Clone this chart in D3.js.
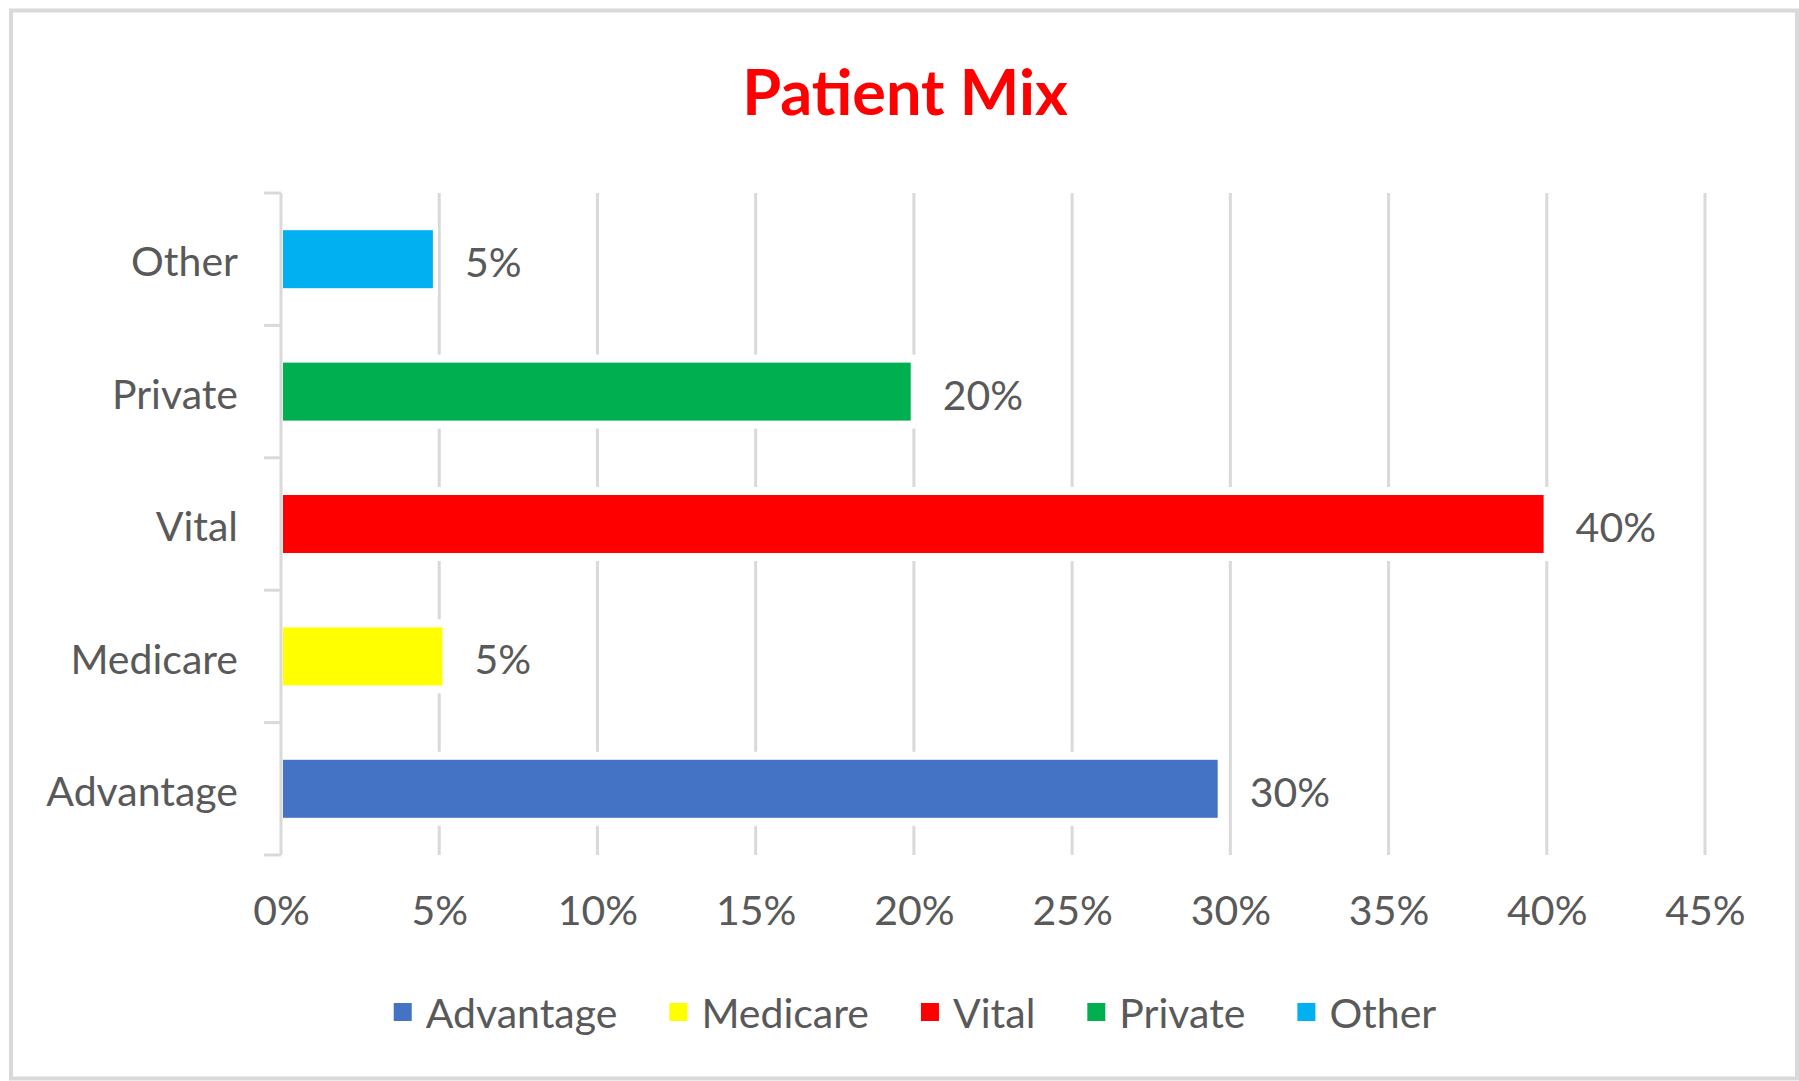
<!DOCTYPE html>
<html>
<head>
<meta charset="utf-8">
<script src="https://cdn.jsdelivr.net/npm/d3@7"></script>
<style>
  body { margin: 0; background: #fff; }
  text { font-family: Lato, "Open Sans", sans-serif; fill: #595959; }
</style>
</head>
<body>
<svg id="chart"></svg>
<script>
// data
const chartTitle = "Patient Mix";
const categories = ["Other", "Private", "Vital", "Medicare", "Advantage"];
const values = [0.048, 0.199, 0.399, 0.051, 0.296];
const barColors = ["#00B0F0", "#00B050", "#FF0000", "#FFFF00", "#4472C4"];
const legendOrder = ["Advantage", "Medicare", "Vital", "Private", "Other"];
const xTicks = [0, 0.05, 0.10, 0.15, 0.20, 0.25, 0.30, 0.35, 0.40, 0.45];

const width = 1799;
const height = 1081;
const fontSize = 41;
const grid = "#d9d9d9";

const svg = d3.select("#chart")
    .attr("width", width)
    .attr("height", height);

// chart frame
svg.append("rect")
    .attr("x", 11).attr("y", 10.5)
    .attr("width", 1786).attr("height", 1068)
    .attr("fill", "#fff")
    .attr("stroke", grid)
    .attr("stroke-width", 4);

svg.append("text")
    .attr("x", 905).attr("y", 115)
    .attr("text-anchor", "middle")
    .style("fill", "#FF0000")
    .style("font-weight", "bold")
    .style("font-size", "63px")
    .text(chartTitle);

const x = d3.scaleLinear().domain([0, 0.45]).range([281, 1705]);
const y = d3.scaleBand().domain(categories).range([193, 855])
    .paddingInner(0.562).paddingOuter(0.281);

const color = d3.scaleOrdinal().domain(categories).range(barColors);
const fmt = d3.format(".0%");

// vertical gridlines
svg.append("g").selectAll("line")
    .data(xTicks.slice(1))
  .enter().append("line")
    .attr("x1", d => x(d)).attr("x2", d => x(d))
    .attr("y1", 193).attr("y2", 855)
    .attr("stroke", grid)
    .attr("stroke-width", 3);

// category axis line and boundary ticks
svg.append("line")
    .attr("x1", x(0)).attr("x2", x(0))
    .attr("y1", 193).attr("y2", 855)
    .attr("stroke", grid).attr("stroke-width", 3);

svg.append("g").selectAll("line")
    .data(d3.range(categories.length + 1))
  .enter().append("line")
    .attr("x1", x(0) - 17).attr("x2", x(0))
    .attr("y1", i => 193 + i * y.step())
    .attr("y2", i => 193 + i * y.step())
    .attr("stroke", grid).attr("stroke-width", 3);

// x axis labels
const gx = svg.append("g")
    .attr("transform", "translate(0,855)")
    .call(d3.axisBottom(x).tickValues(xTicks).tickFormat(fmt).tickSize(0).tickPadding(41));
gx.select(".domain").remove();
gx.selectAll("text").style("font-size", fontSize + "px").attr("font-family", null);

// category labels
const gy = svg.append("g")
    .attr("transform", "translate(" + x(0) + ",0)")
    .call(d3.axisLeft(y).tickSize(0).tickPadding(43));
gy.select(".domain").remove();
gy.selectAll("text").style("font-size", fontSize + "px").attr("font-family", null)
    .attr("dy", "0.42em");

// white knockout behind bars (gridlines break around them)
svg.append("g").selectAll("rect")
    .data(categories)
  .enter().append("rect")
    .attr("x", x(0) + 2)
    .attr("y", d => y(d) - 8)
    .attr("width", (d, i) => x(values[i]) - x(0) + 3)
    .attr("height", y.bandwidth() + 16)
    .attr("fill", "#fff");

svg.append("g").selectAll("rect")
    .data(categories)
  .enter().append("rect")
    .attr("x", x(0) + 2)
    .attr("y", d => y(d))
    .attr("width", (d, i) => x(values[i]) - x(0) - 2)
    .attr("height", y.bandwidth())
    .attr("fill", d => color(d));

// data labels
svg.append("g").selectAll("text")
    .data(categories)
  .enter().append("text")
    .attr("x", (d, i) => x(values[i]) + 32)
    .attr("y", d => y(d) + y.bandwidth() / 2)
    .attr("dy", "0.44em")
    .style("font-size", fontSize + "px")
    .text((d, i) => fmt(values[i]));

// legend
const legend = svg.append("g");
let lx = 0;
legendOrder.forEach(name => {
    const item = legend.append("g").attr("transform", "translate(" + lx + ",0)");
    item.append("rect")
        .attr("x", 0).attr("y", -9)
        .attr("width", 18).attr("height", 18)
        .attr("fill", color(name));
    const t = item.append("text")
        .attr("x", 32).attr("y", 0)
        .attr("dy", "0.38em")
        .style("font-size", fontSize + "px")
        .text(name);
    lx += 32 + t.node().getComputedTextLength() + 52;
});
const legendWidth = lx - 52;
legend.attr("transform", "translate(" + (915 - legendWidth / 2) + ",1012)");
</script>
</body>
</html>
